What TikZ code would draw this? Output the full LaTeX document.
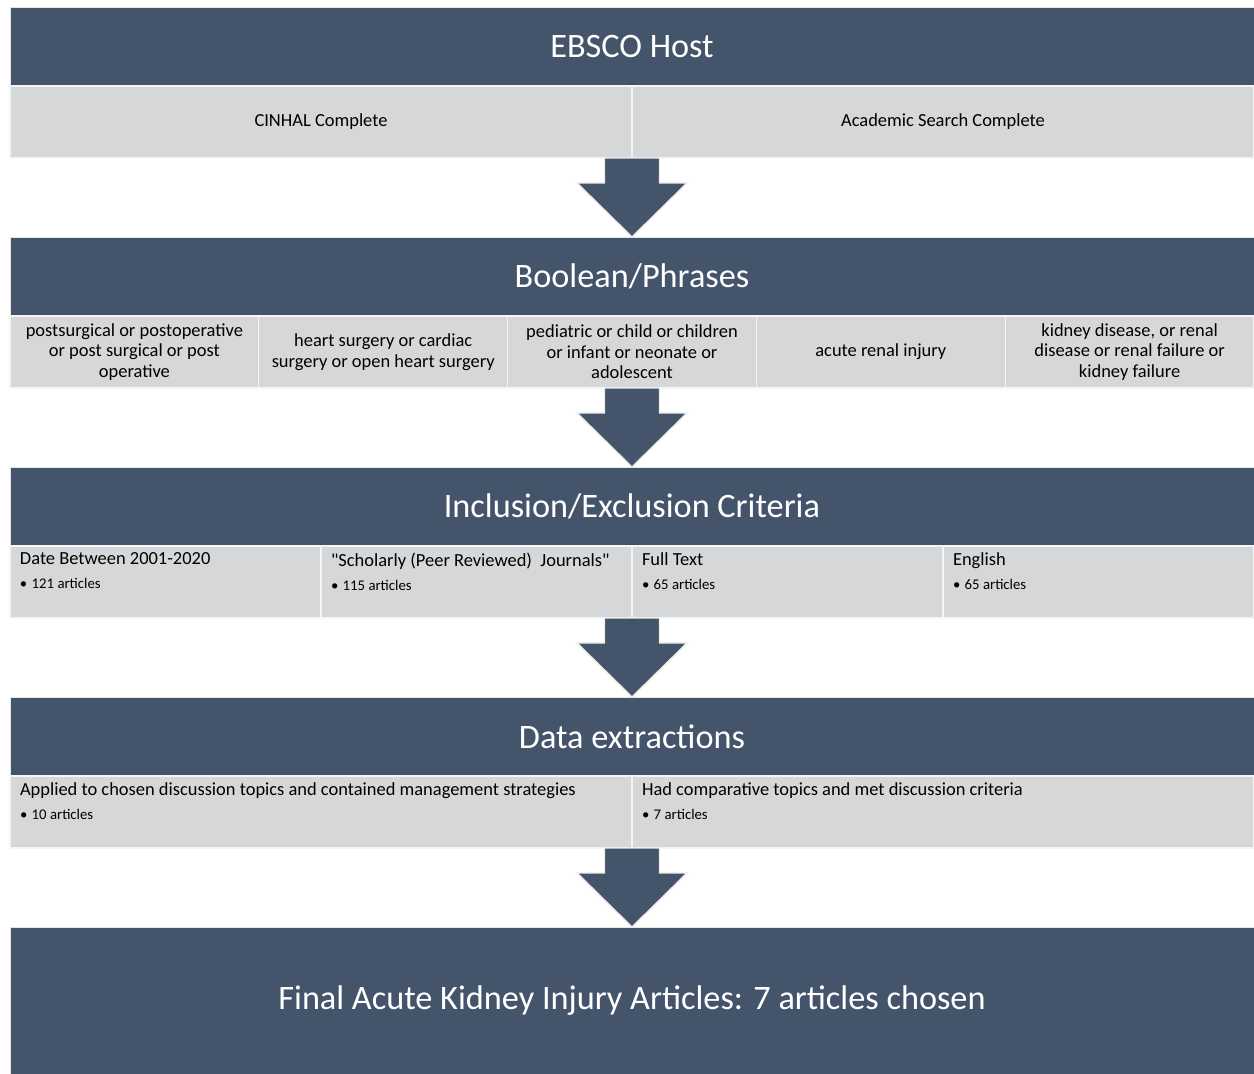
\documentclass[tikz,border=0pt]{standalone}
\usepackage{fontspec}
\setmainfont{Carlito}
\usepackage{tikz}
\usetikzlibrary{positioning, calc}

\definecolor{slate}{HTML}{44546A}
\definecolor{panel}{HTML}{D6D7D9}

% block arrow from the bottom of a cell row down to the next header
\newcommand{\flowarrow}[2]{%
  \coordinate (s) at (#2.north |- #1.south);
  \draw [blockarrow] ($(s)+(-0.55,0)$) -- ++(0,-0.5) -- ++(-0.55,0) -- (#2.north)
    -- ($(s)+(1.1,-0.5)$) -- ++(-0.55,0) -- ++(0,0.5) -- cycle;}

% title with one bullet line, set at the top of its cell
\newcommand{\critbox}[3][5.82cm]{\parbox[c][1.16cm][t]{#1}{\raggedright #2\par\vspace{3.5pt}%
  {\fontsize{8.4}{10}\selectfont\textbullet\hspace{2.5pt}#3\par}}}

\begin{document}
\begin{tikzpicture}
\tikzstyle{header} = [rectangle, minimum width=24.88cm, minimum height=1.58cm, inner sep=0pt, outer sep=0pt, fill=slate, draw=black!10, text=white, font=\fontsize{19.5}{23}\selectfont]
\tikzstyle{cell} = [rectangle, minimum height=1.44cm, inner sep=0pt, outer sep=0pt, fill=panel, draw=white!75!panel, line width=0.6pt, text=black, align=center, font=\fontsize{10.5}{11.7}\selectfont]
\tikzstyle{blockarrow} = [fill=slate, draw=black!8, line width=0.8pt]

\useasboundingbox (0,0) rectangle (25.08,-21.48);

\node (ebsco) [header] at (12.64,-0.93) {EBSCO Host};
\node (cinhal) [cell, minimum width=12.44cm, below right=0pt of ebsco.south west] {CINHAL Complete};
\node (academic) [cell, minimum width=12.44cm, right=0pt of cinhal] {Academic Search Complete};

\node (boolean) [header, below=3.02cm of ebsco] {Boolean/Phrases};
\node (postop) [cell, minimum width=4.976cm, below right=0pt of boolean.south west] {postsurgical or postoperative\\or post surgical or post\\operative};
\node (heart) [cell, minimum width=4.976cm, right=0pt of postop] {heart surgery or cardiac\\surgery or open heart surgery};
\node (pediatric) [cell, minimum width=4.976cm, right=0pt of heart] {pediatric or child or children\\or infant or neonate or\\adolescent};
\node (acute) [cell, minimum width=4.976cm, right=0pt of pediatric] {acute renal injury};
\node (kidney) [cell, minimum width=4.976cm, right=0pt of acute] {kidney disease, or renal\\disease or renal failure or\\kidney failure};

\node (criteria) [header, below=3.02cm of boolean] {Inclusion/Exclusion Criteria};
\node (date) [cell, minimum width=6.22cm, below right=0pt of criteria.south west] {\critbox{Date Between 2001-2020}{121 articles}};
\node (scholarly) [cell, minimum width=6.22cm, right=0pt of date] {\critbox{\textquotedbl Scholarly (Peer Reviewed)\ \ Journals\textquotedbl}{115 articles}};
\node (fulltext) [cell, minimum width=6.22cm, right=0pt of scholarly] {\critbox{Full Text}{65 articles}};
\node (english) [cell, minimum width=6.22cm, right=0pt of fulltext] {\critbox{English}{65 articles}};

\node (extract) [header, below=3.02cm of criteria] {Data extractions};
\node (applied) [cell, minimum width=12.44cm, below right=0pt of extract.south west] {\critbox[12.04cm]{Applied to chosen discussion topics and contained management strategies}{10 articles}};
\node (compare) [cell, minimum width=12.44cm, right=0pt of applied] {\critbox[12.04cm]{Had comparative topics and met discussion criteria}{7 articles}};

\node (final) [header, minimum height=2.94cm, below=3.02cm of extract] {Final Acute Kidney Injury Articles: 7 articles chosen};

\flowarrow{cinhal}{boolean}
\flowarrow{pediatric}{criteria}
\flowarrow{scholarly}{extract}
\flowarrow{applied}{final}
\end{tikzpicture}
\end{document}
